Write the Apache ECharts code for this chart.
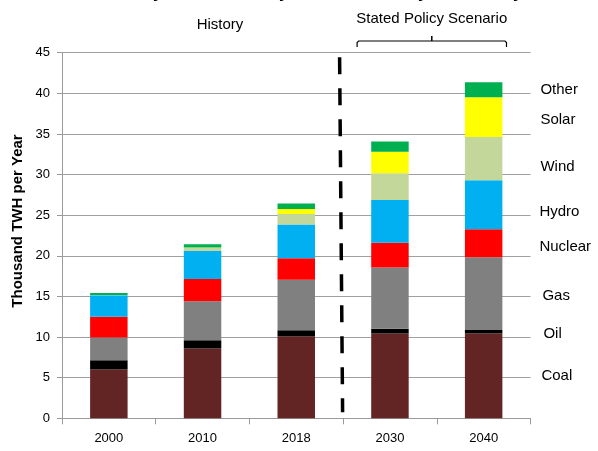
<!DOCTYPE html>
<html>
<head>
<meta charset="utf-8">
<script src="https://cdn.jsdelivr.net/npm/echarts@6/dist/echarts.min.js"></script>
<style>
  html, body { margin: 0; padding: 0; background: #fff; }
  #chart { width: 598px; height: 451px; }
</style>
</head>
<body>
<div id="chart"></div>
<script>
// Electricity generation by source, thousand TWh per year
const categories = ['2000', '2010', '2018', '2030', '2040'];
const coal    = [6.0, 8.6, 10.1, 10.45, 10.45];
const oil     = [1.15, 1.0, 0.75, 0.57, 0.41];
const gas     = [2.8, 4.8, 6.2, 7.55, 8.95];
const nuclear = [2.55, 2.75, 2.65, 3.05, 3.45];
const hydro   = [2.65, 3.45, 4.15, 5.25, 6.05];
const wind    = [0.03, 0.4, 1.3, 3.3, 5.3];
const solar   = [0.0, 0.03, 0.6, 2.65, 4.9];
const other   = [0.25, 0.4, 0.7, 1.25, 1.85];
const yTicks  = [0, 5, 10, 15, 20, 25, 30, 35, 40, 45];

const FONT = '"Liberation Sans", Arial, sans-serif';

// name, values, colour, label nudge [dx, dy] beside the last bar
const sources = [
  ['Coal', coal, '#632523', [1, 0]],
  ['Oil', oil, '#000000', [3, 2]],
  ['Gas', gas, '#808080', [2, 2]],
  ['Nuclear', nuclear, '#ff0000', [-1, 3.5]],
  ['Hydro', hydro, '#00b0f0', [-1, 7]],
  ['Wind', wind, '#c4d79b', [0, 8]],
  ['Solar', solar, '#ffff00', [0, 2.5]],
  ['Other', other, '#00b050', [0, 0]]
];

const last = categories.length - 1;
const series = sources.map(([name, vals, color, nudge]) => ({
  name,
  type: 'bar',
  stack: 'total',
  barWidth: '40%',
  itemStyle: { color },
  emphasis: { disabled: true },
  data: vals.map((v, i) => i === last ? {
    value: v,
    label: {
      show: true,
      position: 'right',
      distance: 38,
      offset: nudge,
      formatter: name,
      color: '#000',
      fontFamily: FONT,
      fontSize: 15
    }
  } : v)
}));

const chart = echarts.init(document.getElementById('chart'), null, { renderer: 'canvas' });

chart.setOption({
  animation: false,
  backgroundColor: '#fff',
  grid: { left: 62, right: 67.5, top: 52.7, bottom: 32.7 },
  xAxis: {
    type: 'category',
    data: categories,
    axisLine: { lineStyle: { color: '#9a9a9a', width: 1 } },
    axisTick: { show: true, length: 6, lineStyle: { color: '#9a9a9a' } },
    axisLabel: { color: '#000', fontFamily: FONT, fontSize: 13, margin: 14 }
  },
  yAxis: {
    type: 'value',
    min: yTicks[0],
    max: yTicks[yTicks.length - 1],
    interval: yTicks[1] - yTicks[0],
    axisLine: { show: true, lineStyle: { color: '#9a9a9a', width: 1 } },
    axisTick: { show: true, length: 5, lineStyle: { color: '#9a9a9a' } },
    axisLabel: { color: '#000', fontFamily: FONT, fontSize: 13, margin: 12 },
    splitLine: { lineStyle: { color: '#a0a0a0', width: 1 } }
  },
  series
});

// Annotations placed from the axes: history / scenario split, captions, bracket
function drawAnnotations() {
  const x2018 = chart.convertToPixel({ xAxisIndex: 0 }, '2018');
  const x2030 = chart.convertToPixel({ xAxisIndex: 0 }, '2030');
  const x2040 = chart.convertToPixel({ xAxisIndex: 0 }, '2040');
  const x2000 = chart.convertToPixel({ xAxisIndex: 0 }, '2000');
  const yTop = chart.convertToPixel({ yAxisIndex: 0 }, 45);
  const yZero = chart.convertToPixel({ yAxisIndex: 0 }, 0);
  const split = (x2018 + x2030) / 2 - 2;
  const band = x2030 - x2018;
  const bl = split + 16;
  const br = x2040 + band / 2 - 24;
  const bc = (bl + br) / 2;
  const by = 41;

  chart.setOption({
    graphic: [
      {
        type: 'text', x: 300, y: 1.5,
        style: {
          text: 'Electricity Generation by Source: History and Policy',
          fontFamily: FONT, fontSize: 18, fontWeight: 'bold', fill: '#000',
          align: 'center', verticalAlign: 'bottom'
        }
      },
      {
        type: 'line',
        shape: { x1: split - 1.5, y1: yTop + 4.5, x2: split + 1.5, y2: yZero - 6 },
        style: { stroke: '#000', lineWidth: 3.5, lineDash: [17, 14] }
      },
      {
        type: 'text', x: (x2000 + split) / 2 - 5, y: 25,
        style: {
          text: 'History', fontFamily: FONT, fontSize: 15, fill: '#000',
          align: 'center', verticalAlign: 'middle'
        }
      },
      {
        type: 'text', x: bc, y: 19,
        style: {
          text: 'Stated Policy Scenario', fontFamily: FONT, fontSize: 15, fill: '#000',
          align: 'center', verticalAlign: 'middle'
        }
      },
      {
        type: 'polyline',
        shape: {
          points: [
            [bl, by + 6], [bl, by + 1.5], [bl + 1.5, by],
            [br - 1.5, by], [br, by + 1.5], [br, by + 6]
          ]
        },
        style: { stroke: '#000', lineWidth: 1.2, fill: null }
      },
      {
        type: 'line',
        shape: { x1: bc, y1: by, x2: bc, y2: by - 5 },
        style: { stroke: '#000', lineWidth: 1.5 }
      },
      {
        type: 'text', x: 18, y: 221, rotation: Math.PI / 2,
        style: {
          text: 'Thousand TWH per Year', fontFamily: FONT, fontSize: 15,
          fontWeight: 'bold', fill: '#000', align: 'center', verticalAlign: 'middle'
        }
      }
    ]
  });
}
drawAnnotations();
</script>
</body>
</html>
